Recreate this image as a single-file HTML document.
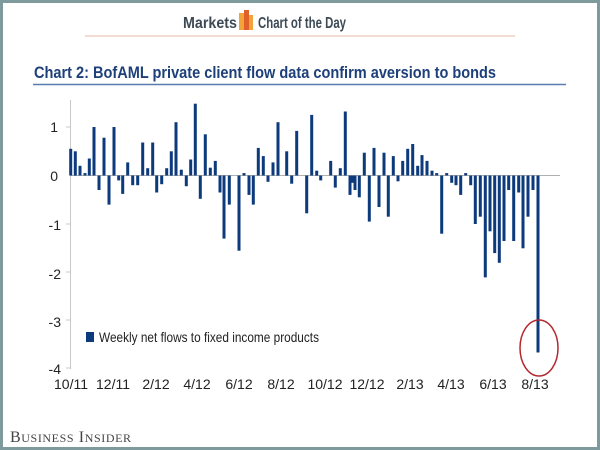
<!DOCTYPE html>
<html><head><meta charset="utf-8"><style>
html,body{margin:0;padding:0;background:#fff}
svg{display:block}
text{font-family:"Liberation Sans",Arial,sans-serif}
.bi{font-family:"Liberation Serif","DejaVu Serif",serif}
</style></head><body>
<svg id="s" width="600" height="450" viewBox="0 0 600 450" xmlns="http://www.w3.org/2000/svg">
<rect x="1.5" y="1.5" width="597" height="447" fill="#fff" stroke="#7f9a9c" stroke-width="3"/>
<text x="210" y="28" font-size="16" font-weight="bold" fill="#3d4a55" text-anchor="middle" textLength="54" lengthAdjust="spacingAndGlyphs">Markets</text>
<rect x="239" y="13" width="5" height="17" fill="#f2a33a"/>
<rect x="244" y="10" width="5" height="20" fill="#e0602a"/>
<rect x="249" y="15" width="4" height="15" fill="#f2a33a"/>
<text x="258" y="28" font-size="16" font-weight="bold" fill="#3d4a55" textLength="88" lengthAdjust="spacingAndGlyphs">Chart of the Day</text>
<line x1="85" y1="36" x2="515" y2="36" stroke="#e8b8a8" stroke-width="1"/>
<text x="34" y="78" font-size="17" font-weight="bold" fill="#1d3f7a" textLength="462" lengthAdjust="spacingAndGlyphs">Chart 2: BofAML private client flow data confirm aversion to bonds</text>
<line x1="33" y1="84.5" x2="566" y2="84.5" stroke="#5a7bb0" stroke-width="1.5"/>
<line x1="70.5" y1="100" x2="70.5" y2="369" stroke="#c8c8c8" stroke-width="1"/>
<line x1="70" y1="175.5" x2="560" y2="175.5" stroke="#b0b0b0" stroke-width="1"/>
<g font-size="14" fill="#222" text-anchor="end">
<text x="58" y="132">1</text><text x="58" y="181">0</text><text x="61" y="230">-1</text>
<text x="61" y="279">-2</text><text x="61" y="327">-3</text><text x="61" y="374">-4</text>
</g>
<g stroke="#c8c8c8"><line x1="66" y1="127" x2="70" y2="127"/><line x1="66" y1="224" x2="70" y2="224"/><line x1="66" y1="272" x2="70" y2="272"/><line x1="66" y1="320" x2="70" y2="320"/><line x1="66" y1="368" x2="70" y2="368"/></g>
<g id="bars" fill="#0d3a7c"></g>
<ellipse cx="539" cy="348" rx="19" ry="28" fill="none" stroke="#b3282e" stroke-width="1.5"/>
<rect x="86" y="332" width="8" height="10" fill="#0d3a7c"/>
<text x="99" y="342" font-size="14" fill="#222" textLength="220" lengthAdjust="spacingAndGlyphs">Weekly net flows to fixed income products</text>
<g font-size="14" fill="#222" text-anchor="middle">
<text x="71" y="389">10/11</text><text x="113" y="389">12/11</text><text x="156" y="389">2/12</text><text x="197" y="389">4/12</text><text x="239" y="389">6/12</text><text x="281" y="389">8/12</text><text x="325" y="389">10/12</text><text x="367" y="389">12/12</text><text x="410" y="389">2/13</text><text x="451" y="389">4/13</text><text x="493" y="389">6/13</text><text x="535" y="389">8/13</text>
</g>
<text class="bi" x="10" y="442" font-size="16" fill="#444" letter-spacing="0.6">B<tspan font-size="12">USINESS</tspan> I<tspan font-size="12">NSIDER</tspan></text>
</svg>
<script>
var z2=[[62,.55],[76,.5],[90,.2],[105,.05],[118,.35],[132,1.0],[147,-.3],[162,.78],[177,-.6],[192,1.0],[206,-.1],[218,-.38],[233,.27],[248,-.2],[263,-.2],[278,.68],[293,.15],[308,.68],[320,-.35],[335,-.18],[350,.15],[364,.5],[378,1.1],[394,.12],[409,-.22],[422,.33],[436,1.48],[451,-.48],[466,.85],[481,.16],[496,.3],[510,-.35],[522,-1.3],[538,-.6],[567,-1.55],[582,.05],[597,-.4],[610,-.6],[625,.57],[640,.4],[654,-.13],[669,.27],[684,1.1],[710,.5],[725,-.17],[740,.92]];
var z3=[[20,-.78],[35,1.25],[50,.1],[62,-.1],[92,.3],[106,-.25],[121,.15],[136,1.32],[150,-.4],[158,-.15],[165,-.3],[178,-.45],[193,.47],[208,-.95],[222,.57],[237,-.65],[252,.47],[265,-.85],[280,.4],[294,-.12],[308,.3],[323,.55],[338,.65],[353,.2],[366,.42],[381,.3],[396,.1],[410,.05],[425,-1.2],[440,.05],[455,-.15],[468,-.2],[482,-.4],[497,.05],[512,-.2],[526,-1.0],[541,-.85],[556,-2.1],[570,-1.15],[584,-1.6],[598,-1.8],[612,-1.35],[626,-.3],[641,-1.35],[656,-.35],[669,-1.5],[684,-.85],[699,-.3],[714,-3.65]];
var g=document.getElementById('bars'),s='',k=48.5,y0=175.5;
function add(x,v){var h=Math.abs(v)*k,y=v>0?y0-h:y0;s+='<rect x="'+(x-1.5).toFixed(1)+'" y="'+y.toFixed(1)+'" width="3" height="'+h.toFixed(1)+'"/>';}
z2.forEach(function(d){add(50+d[0]/3,d[1]);});
z3.forEach(function(d){add(300+d[0]/3,d[1]);});
g.innerHTML=s;
</script>
</body></html>
